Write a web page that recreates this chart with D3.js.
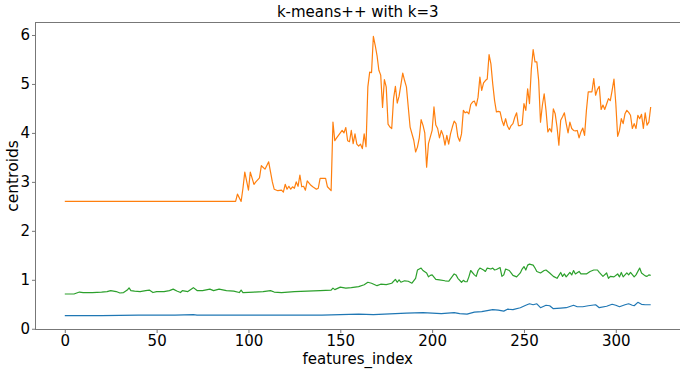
<!DOCTYPE html>
<html>
<head>
<meta charset="utf-8">
<script src="https://cdn.jsdelivr.net/npm/d3@7"></script>
<style>
  body { margin: 0; background: #fff; }
  svg { display: block; font-family: "DejaVu Sans", sans-serif; }
</style>
</head>
<body>
<svg id="chart" width="680" height="371"></svg>
<script>
// tick labels
const xTicks = [0, 50, 100, 150, 200, 250, 300];
const yTicks = [0, 1, 2, 3, 4, 5, 6];

// centroid values: [features_index, value]
const centroid0 = [
  [0,0.27],[20,0.27],[40,0.28],[60,0.28],[70,0.29],[72,0.28],[100,0.28],[140,0.28],
  [160,0.3],[168,0.29],[180,0.31],[186,0.32],[195,0.33],[200,0.32],[205,0.31],[212,0.33],
  [215,0.31],[219,0.3],[223,0.34],[227,0.35],[230,0.37],[233,0.39],[236,0.38],[239,0.36],
  [241,0.4],[244,0.39],[248,0.43],[251,0.48],[253,0.51],[255,0.49],[257,0.51],[259,0.43],
  [262,0.48],[264,0.47],[266,0.41],[270,0.42],[273,0.43],[277,0.48],[279,0.45],[282,0.45],
  [285,0.47],[289,0.49],[291,0.43],[295,0.46],[298,0.5],[300,0.48],[302,0.45],[305,0.49],
  [307,0.51],[309,0.48],[310,0.47],[312,0.54],[314,0.5],[316,0.49],[319,0.49]
];

const centroid1 = [
  [0,2.6],[93,2.6],[94,2.75],[96,2.6],[97,2.87],[98,3.2],[100,2.83],[101,3.2],[103,2.95],
  [104,3.0],[106,3.08],[107,3.33],[109,3.26],[111,3.41],[113,3.0],[114,2.85],[116,2.82],
  [118,2.83],[119,2.79],[120,2.95],[121,2.85],[122,2.91],[123,2.85],[124,2.9],[125,2.87],
  [126,3.0],[127,2.91],[128,3.14],[129,2.9],[130,2.91],[131,2.83],[132,3.02],[134,2.93],
  [135,2.9],[137,2.85],[138,2.87],[139,3.07],[142,3.07],[143,2.9],[145,2.82],[146,4.22],
  [147,3.84],[148,3.9],[149,3.95],[151,4.05],[152,4.0],[153,4.11],[154,3.84],[155,3.82],
  [156,4.05],[157,3.78],[158,3.98],[159,3.77],[160,3.73],[161,3.77],[162,3.68],[163,3.98],
  [164,3.72],[165,4.94],[166,5.24],[167,5.23],[168,5.97],[169,5.79],[170,5.58],[171,5.28],
  [172,5.18],[173,4.52],[174,5.09],[175,4.94],[176,4.18],[177,4.12],[178,4.09],[179,4.7],
  [180,4.95],[181,4.61],[182,4.75],[184,5.22],[185,5.07],[186,4.94],[187,4.53],[188,4.12],
  [190,3.85],[191,3.61],[192,3.71],[193,3.9],[194,4.27],[195,4.16],[196,4.0],[197,3.3],
  [198,3.78],[200,4.05],[201,4.53],[202,4.16],[203,4.09],[204,3.9],[205,4.05],[206,3.95],
  [207,3.75],[208,3.95],[209,3.77],[210,3.98],[211,4.12],[212,4.24],[213,4.19],[214,3.92],
  [215,3.83],[216,3.98],[217,4.46],[218,4.41],[219,4.43],[220,4.39],[221,4.58],[222,4.63],
  [223,4.65],[224,4.55],[225,4.73],[226,5.14],[227,4.87],[228,5.02],[229,5.07],[230,5.1],
  [231,5.6],[232,5.41],[233,5.0],[234,4.66],[235,4.43],[236,4.44],[237,4.43],[238,4.26],
  [239,4.15],[240,4.29],[241,4.14],[242,4.07],[243,4.15],[244,4.19],[245,4.32],[246,4.41],
  [247,4.15],[248,4.15],[249,4.17],[250,4.6],[251,4.46],[252,4.9],[253,4.6],[254,5.3],
  [255,5.7],[256,5.45],[257,5.45],[258,5.07],[259,4.22],[260,4.56],[261,4.8],[262,4.46],
  [263,4.02],[264,4.09],[265,4.02],[266,4.49],[267,4.39],[268,4.12],[269,3.75],[270,4.26],
  [271,4.33],[272,4.41],[273,4.19],[274,4.0],[275,4.22],[276,4.09],[277,4.05],[278,4.04],
  [279,4.05],[280,3.9],[281,4.02],[282,4.1],[283,3.95],[284,4.46],[285,4.84],[287,4.84],
  [288,5.11],[289,4.77],[290,4.89],[291,4.95],[292,4.48],[293,4.57],[294,4.48],[295,4.59],
  [296,4.7],[297,4.66],[298,4.87],[299,5.1],[300,4.6],[301,3.93],[302,4.05],[303,4.29],
  [304,4.19],[305,4.39],[306,4.46],[307,4.42],[308,4.36],[309,4.09],[310,4.19],[311,4.09],
  [312,4.36],[313,4.29],[314,4.38],[315,4.09],[316,4.41],[317,4.16],[318,4.22],[319,4.53]
];

const centroid2 = [
  [0,0.71],[5,0.71],[8,0.75],[10,0.74],[15,0.74],[20,0.75],[23,0.76],[25,0.78],[28,0.76],
  [30,0.73],[32,0.74],[34,0.79],[35,0.835],[36,0.78],[38,0.77],[41,0.76],[44,0.78],[46,0.79],
  [48,0.74],[50,0.76],[54,0.76],[57,0.78],[59,0.81],[61,0.77],[63,0.74],[64,0.78],[67,0.76],
  [70,0.84],[72,0.78],[75,0.78],[79,0.81],[81,0.78],[84,0.81],[88,0.78],[92,0.77],[95,0.74],
  [96,0.79],[97,0.74],[103,0.75],[108,0.76],[112,0.78],[114,0.75],[118,0.74],[125,0.76],
  [132,0.77],[139,0.78],[145,0.79],[146,0.83],[147,0.8],[150,0.85],[153,0.83],[156,0.84],
  [160,0.86],[163,0.9],[165,0.95],[167,0.93],[170,0.88],[172,0.91],[175,0.9],[178,0.93],
  [180,1.01],[181,0.95],[182,1.0],[183,0.95],[185,0.98],[187,0.97],[189,0.93],[191,1.03],
  [192,1.2],[194,1.24],[195,1.19],[197,1.14],[198,1.06],[199,1.09],[200,1.1],[202,1.01],
  [204,1.0],[207,0.98],[209,0.97],[211,1.07],[212,1.12],[213,1.1],[214,1.03],[216,0.95],
  [217,0.99],[218,0.96],[219,0.96],[220,1.06],[221,1.19],[223,1.1],[224,1.07],[225,1.19],
  [226,1.24],[228,1.2],[229,1.17],[230,1.24],[232,1.22],[233,1.24],[234,1.2],[235,1.21],
  [237,1.25],[238,1.07],[239,1.1],[240,1.22],[242,1.19],[243,1.14],[244,1.09],[246,1.06],
  [248,1.14],[249,1.22],[250,1.27],[251,1.2],[252,1.3],[253,1.32],[255,1.3],[256,1.24],
  [257,1.17],[259,1.14],[261,1.19],[262,1.2],[264,1.14],[266,1.07],[268,1.03],[270,1.15],
  [271,1.07],[272,1.12],[273,1.06],[275,1.15],[276,1.1],[277,1.19],[278,1.12],[280,1.17],
  [281,1.12],[284,1.12],[286,1.17],[288,1.2],[290,1.2],[291,1.15],[293,1.07],[295,1.14],
  [296,1.03],[297,1.07],[299,1.06],[301,1.12],[302,1.06],[303,1.15],[304,1.06],[306,1.14],
  [307,1.1],[308,1.15],[310,1.06],[311,1.1],[313,1.24],[314,1.14],[316,1.08],[317,1.07],
  [318,1.1],[319,1.09]
];

const seriesColors = ['#1f77b4', '#ff7f0e', '#2ca02c'];

/**
 * SIZE DEFINITIONS
 */
const plot = { left: 35.5, top: 22.5, right: 680, bottom: 329.5 };

const svg = d3.select('#chart');

/**
 * SCALES (matplotlib style 5% margins)
 */
const series = [centroid0, centroid1, centroid2];
const allPts = series.flat();
const xExt = d3.extent(allPts, (d) => d[0]);
const yExt = d3.extent(allPts, (d) => d[1]);
const xPad = (xExt[1] - xExt[0]) * 0.05;
const yPad = (yExt[1] - yExt[0]) * 0.05;

const xScale = d3.scaleLinear()
  .domain([xExt[0] - xPad, xExt[1] + xPad])
  .range([plot.left, plot.right]);

const yScale = d3.scaleLinear()
  .domain([yExt[0] - yPad, yExt[1] + yPad])
  .range([plot.bottom, plot.top]);

/**
 * LINES
 */
const line = d3.line()
  .x((d) => xScale(d[0]))
  .y((d) => yScale(d[1]));

svg.append('g')
  .selectAll('path')
  .data(series)
  .join('path')
  .attr('d', line)
  .attr('fill', 'none')
  .attr('stroke', (d, i) => seriesColors[i])
  .attr('stroke-width', 1.2)
  .attr('stroke-linejoin', 'round');

/**
 * AXES
 */
const xAxis = d3.axisBottom(xScale).tickValues(xTicks).tickFormat(d3.format('d'))
  .tickSize(3.5).tickPadding(2.5);
const yAxis = d3.axisLeft(yScale).tickValues(yTicks).tickFormat(d3.format('d'))
  .tickSize(3.5).tickPadding(2);

const gX = svg.append('g')
  .attr('transform', `translate(0, ${plot.bottom})`)
  .call(xAxis);
const gY = svg.append('g')
  .attr('transform', `translate(${plot.left}, 0)`)
  .call(yAxis);

[gX, gY].forEach((g) => {
  g.select('.domain').remove();
  g.selectAll('.tick line').attr('stroke', '#555').attr('stroke-width', 0.8);
  g.selectAll('.tick text')
    .attr('fill', '#000')
    .attr('font-size', 15)
    .attr('font-family', '"DejaVu Sans", sans-serif');
});

// spines
svg.append('rect')
  .attr('x', plot.left)
  .attr('y', plot.top)
  .attr('width', plot.right - plot.left + 2)
  .attr('height', plot.bottom - plot.top)
  .attr('fill', 'none')
  .attr('stroke', '#777')
  .attr('stroke-width', 1);

/**
 * TEXTS
 */
svg.append('text')
  .attr('x', (plot.left + plot.right) / 2)
  .attr('y', 17)
  .attr('text-anchor', 'middle')
  .attr('font-size', 15)
  .text('k-means++ with k=3');

svg.append('text')
  .attr('x', (plot.left + plot.right) / 2)
  .attr('y', 363.5)
  .attr('text-anchor', 'middle')
  .attr('font-size', 15)
  .text('features_index');

svg.append('text')
  .attr('transform', `translate(18, ${(plot.top + plot.bottom) / 2}) rotate(-90)`)
  .attr('text-anchor', 'middle')
  .attr('font-size', 15.5)
  .text('centroids');
</script>
</body>
</html>
